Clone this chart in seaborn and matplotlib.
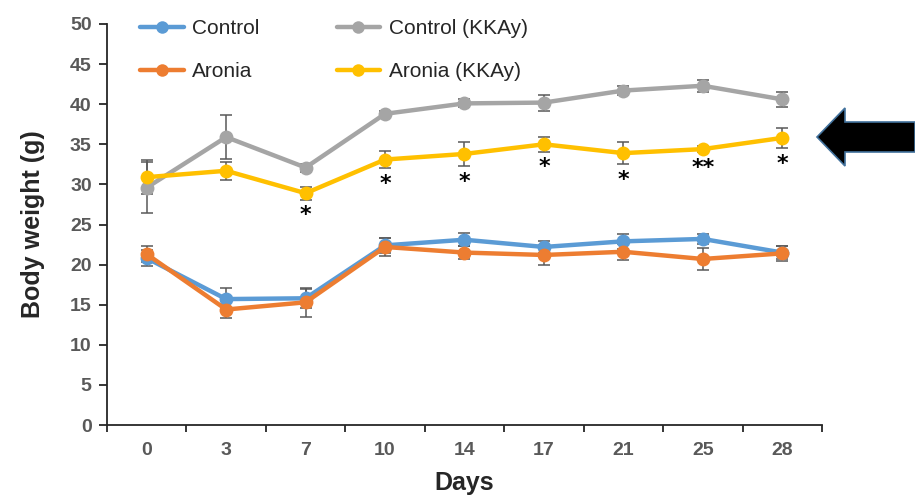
import numpy as np
import pandas as pd
import matplotlib
matplotlib.use('Agg')
import matplotlib.pyplot as plt
import seaborn as sns
from matplotlib.lines import Line2D
from matplotlib.patches import Polygon

days = ['0', '3', '7', '10', '14', '17', '21', '25', '28']
groups = ['Control', 'Aronia', 'Control (KKAy)', 'Aronia (KKAy)']
colors = ['#5B9BD5', '#ED7D31', '#A5A5A5', '#FFC000']

control = [20.8, 15.7, 15.8, 22.4, 23.1, 22.2, 22.9, 23.2, 21.5]
control_err = [1.0, 1.4, 1.2, 0.9, 0.8, 0.8, 0.9, 0.6, 0.8]
aronia = [21.3, 14.4, 15.3, 22.2, 21.5, 21.2, 21.6, 20.7, 21.4]
aronia_err = [1.0, 1.0, 1.8, 1.1, 0.8, 1.2, 1.0, 1.4, 0.9]
control_kk = [29.6, 35.9, 32.1, 38.8, 40.1, 40.2, 41.7, 42.3, 40.6]
control_kk_err = [3.2, 2.7, 0.5, 0.3, 0.5, 1.0, 0.6, 0.75, 0.9]
aronia_kk = [30.9, 31.7, 28.9, 33.1, 33.8, 35.0, 33.9, 34.4, 35.8]
aronia_kk_err = [2.1, 1.1, 0.8, 1.1, 1.5, 0.9, 1.35, 0.4, 1.25]
signif = ['', '', '*', '*', '*', '*', '*', '**', '*']

values = [control, aronia, control_kk, aronia_kk]
errors = [control_err, aronia_err, control_kk_err, aronia_kk_err]

rows = []
for g, v, e in zip(groups, values, errors):
    for i, d in enumerate(days):
        rows.append({'group': g, 'pos': i, 'day': d, 'weight': v[i], 'err': e[i]})
df = pd.DataFrame(rows)

sns.set_style('white')
plt.rcParams['font.family'] = ['Liberation Sans', 'DejaVu Sans']

fig = plt.figure(figsize=(9.15, 4.96), dpi=100)
ax = fig.add_axes([107 / 915, 1 - 425 / 496, (822 - 107) / 915, (425 - 24) / 496])

draw_order = ['Control', 'Control (KKAy)', 'Aronia', 'Aronia (KKAy)']
pal = dict(zip(groups, colors))

for g in draw_order:
    sub = df[df['group'] == g]
    ax.errorbar(sub['pos'], sub['weight'], yerr=sub['err'], fmt='none',
                ecolor='#595959', elinewidth=1.1, capsize=4, capthick=1.1, zorder=1.5)

sns.lineplot(data=df, x='pos', y='weight', hue='group', hue_order=draw_order,
             palette=pal, marker='o', markersize=10, linewidth=3.2,
             markeredgewidth=0, legend=False, ax=ax, errorbar=None)

# significance marks under Aronia (KKAy)
sub = df[df['group'] == 'Aronia (KKAy)'].reset_index(drop=True)
for i, s in enumerate(signif):
    if s:
        y = sub.loc[i, 'weight'] - sub.loc[i, 'err'] - 0.7
        ax.text(sub.loc[i, 'pos'], y, s, ha='center', va='top', fontsize=16,
                fontweight='bold', color='black', family=['DejaVu Sans'])

ax.set_xlim(-0.5, len(days) - 0.5)
ax.set_ylim(0, 50)
ax.set_yticks(np.arange(0, 51, 5))
ax.set_xticks(np.arange(-0.5, len(days), 1.0))
ax.set_xticklabels([])
ax.set_xticks(np.arange(len(days)), minor=True)
ax.set_xticklabels(days, minor=True)
ax.tick_params(axis='x', which='major', direction='out', length=5, width=1.3, color='#262626', bottom=True)
ax.tick_params(axis='x', which='minor', length=0, pad=12, labelsize=14, labelcolor='#595959')
ax.tick_params(axis='y', direction='out', length=6, width=1.3, color='#262626', left=True,
               labelsize=14, labelcolor='#595959', pad=5)
for lab in ax.get_xticklabels(minor=True) + ax.get_yticklabels():
    lab.set_fontweight('bold')

for sp in ['top', 'right']:
    ax.spines[sp].set_visible(False)
for sp in ['left', 'bottom']:
    ax.spines[sp].set_color('#262626')
    ax.spines[sp].set_linewidth(1.3)

ax.set_xlabel('Days', fontsize=18, fontweight='bold', labelpad=9)
ax.set_ylabel('Body weight (g)', fontsize=18, fontweight='bold', labelpad=18)

handles = [Line2D([0], [0], color=pal[g], lw=3.2, marker='o', markersize=9, markeredgewidth=0)
           for g in groups]
leg = ax.legend(handles, groups, ncol=2, loc='upper left', bbox_to_anchor=(0.02, 1.058),
                frameon=False, fontsize=15, handlelength=2.1, columnspacing=3.7,
                labelspacing=1.15, handletextpad=0.4)

# arrow on the right
pts_px = [(817, 137), (845, 108), (845, 122), (915, 122), (915, 152), (845, 152), (845, 166)]
pts = [(x / 915, 1 - y / 496) for x, y in pts_px]
fig.patches.append(Polygon(pts, closed=True, facecolor='black', edgecolor='#41719C',
                           linewidth=1.2, transform=fig.transFigure, figure=fig))

fig.savefig('out.png', dpi=100)
